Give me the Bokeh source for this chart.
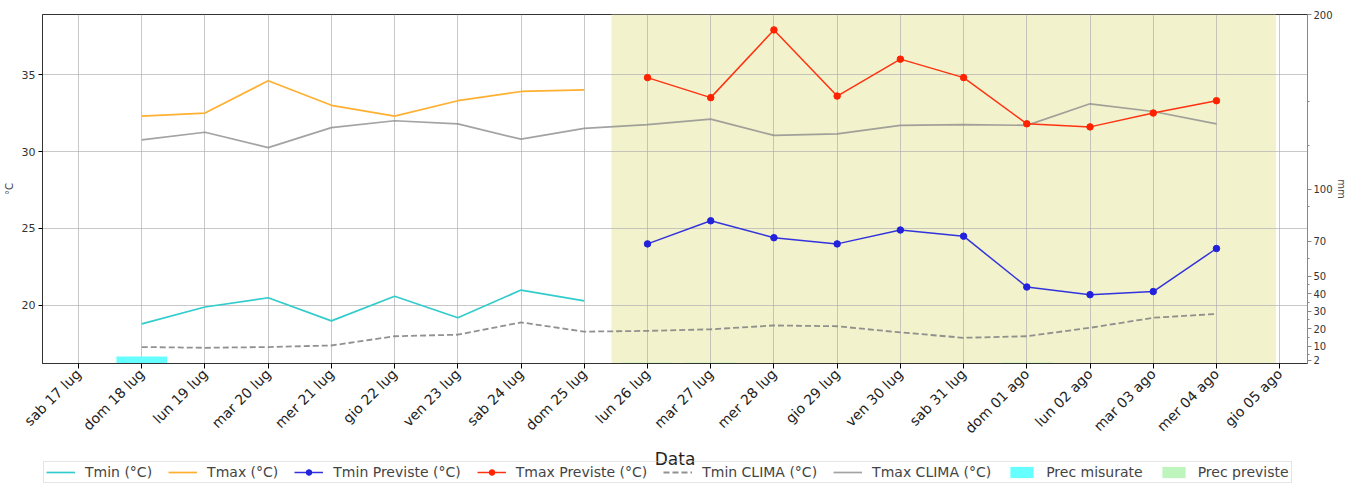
from bokeh.plotting import figure
from bokeh.layouts import column
from bokeh.models import (Range1d, LinearAxis, FixedTicker, BoxAnnotation, Legend,
                          LegendItem, Label)
from bokeh.embed import file_html
from bokeh.resources import INLINE

# ---------------- data ----------------
days = ["sab 17 lug", "dom 18 lug", "lun 19 lug", "mar 20 lug", "mer 21 lug",
        "gio 22 lug", "ven 23 lug", "sab 24 lug", "dom 25 lug", "lun 26 lug",
        "mar 27 lug", "mer 28 lug", "gio 29 lug", "ven 30 lug", "sab 31 lug",
        "dom 01 ago", "lun 02 ago", "mar 03 ago", "mer 04 ago", "gio 05 ago"]

obs_idx = [1, 2, 3, 4, 5, 6, 7, 8]
tmin_obs = [18.8, 19.9, 20.5, 19.0, 20.6, 19.2, 21.0, 20.3]
tmax_obs = [32.3, 32.5, 34.6, 33.0, 32.3, 33.3, 33.9, 34.0]

fc_idx = [9, 10, 11, 12, 13, 14, 15, 16, 17, 18]
tmin_fc = [24.0, 25.5, 24.4, 24.0, 24.9, 24.5, 21.2, 20.7, 20.9, 23.7]
tmax_fc = [34.8, 33.5, 37.9, 33.6, 36.0, 34.8, 31.8, 31.6, 32.5, 33.3]

clima_idx = list(range(1, 19))
tmin_clima = [17.3, 17.25, 17.3, 17.4, 18.0, 18.1, 18.9, 18.3, 18.35, 18.45,
              18.7, 18.65, 18.25, 17.9, 18.0, 18.55, 19.2, 19.45]
tmax_clima = [30.75, 31.25, 30.25, 31.55, 32.0, 31.8, 30.8, 31.5, 31.75, 32.1,
              31.05, 31.15, 31.7, 31.75, 31.7, 33.1, 32.6, 31.8]

prec_obs_idx = [1]
prec_obs = [4.0]
prec_fc_idx = [9, 10, 15]
prec_fc = [0.6, 0.6, 0.6]

mm_ticks = [2, 10, 20, 30, 40, 50, 70, 100, 200]
mm_minor = [5, 15, 25, 35, 45, 60, 90, 125, 150]
c_ticks = [20, 25, 30, 35]

forecast_span = (8.43, 18.94)

FONT = "DejaVu Sans"

ST = {
    "tmin": dict(line_color="#33CCCC", line_width=1.7),
    "tmax": dict(line_color="#FFB030", line_width=1.7),
    "tminfc": dict(line_color="#3333DD", line_width=1.5),
    "tmaxfc": dict(line_color="#FF3311", line_width=1.5),
    "tminc": dict(line_color="#858585", line_width=1.8, line_dash="6 3", line_alpha=0.9),
    "tmaxc": dict(line_color="#8C8C8C", line_width=1.7, line_alpha=0.8),
}
MK = {
    "tminfc": dict(size=6.5, fill_color="#2222DD", line_color="#2222DD"),
    "tmaxfc": dict(size=6.5, fill_color="#FF2200", line_color="#FF2200"),
}
BAR_OBS = dict(fill_color="#66FFFF", line_color=None)
BAR_FC = dict(fill_color="#BDF5BD", line_color=None)


def draw_series(fig, y_range_name_mm):
    """Draw every series on a figure; returns renderers for the legend."""
    b1 = fig.vbar(x=prec_obs_idx, top=prec_obs, bottom=0, width=0.8,
                  y_range_name=y_range_name_mm, **BAR_OBS)
    b2 = fig.vbar(x=prec_fc_idx, top=prec_fc, bottom=0, width=0.8,
                  y_range_name=y_range_name_mm, **BAR_FC)
    r1 = fig.line(obs_idx, tmin_obs, **ST["tmin"])
    r2 = fig.line(obs_idx, tmax_obs, **ST["tmax"])
    r5 = fig.line(clima_idx, tmin_clima, **ST["tminc"])
    r6 = fig.line(clima_idx, tmax_clima, **ST["tmaxc"])
    r3a = fig.line(fc_idx, tmin_fc, **ST["tminfc"])
    r3b = fig.scatter(fc_idx, tmin_fc, **MK["tminfc"])
    r4a = fig.line(fc_idx, tmax_fc, **ST["tmaxfc"])
    r4b = fig.scatter(fc_idx, tmax_fc, **MK["tmaxfc"])
    return [
        ("Tmin (°C)", [r1]),
        ("Tmax (°C)", [r2]),
        ("Tmin Previste (°C)", [r3a, r3b]),
        ("Tmax Previste (°C)", [r4a, r4b]),
        ("Tmin CLIMA (°C)", [r5]),
        ("Tmax CLIMA (°C)", [r6]),
        ("Prec misurate", [b1]),
        ("Prec previste", [b2]),
    ]


# ---------------- main figure ----------------
x_range = Range1d(-0.57, 19.44)
p = figure(width=1349, height=448, output_backend="svg", toolbar_location=None,
           x_range=x_range, y_range=Range1d(16.23, 38.9),
           min_border_left=42, min_border_right=40, min_border_top=14,
           min_border_bottom=85)
p.extra_y_ranges = {"mm": Range1d(0, 200)}

p.background_fill_color = "white"
p.outline_line_color = "#333333"
p.outline_line_width = 1

band = BoxAnnotation(left=forecast_span[0], right=forecast_span[1],
                     fill_color="#F2F2CC", fill_alpha=1.0, line_color=None,
                     level="image")
p.add_layout(band)

p.xgrid.ticker = FixedTicker(ticks=list(range(len(days))))
p.ygrid.ticker = FixedTicker(ticks=c_ticks)
for g in (p.xgrid[0], p.ygrid[0]):
    g.grid_line_color = "#b0b0b0"
    g.grid_line_alpha = 0.7
    g.grid_line_width = 1

xa = p.xaxis[0]
xa.ticker = FixedTicker(ticks=list(range(len(days))))
xa.major_label_overrides = {i: d for i, d in enumerate(days)}
xa.major_label_orientation = 0.785398
xa.major_label_text_font = FONT
xa.major_label_text_font_size = "14px"
xa.major_label_text_color = "#222222"
xa.major_label_standoff = 3
xa.minor_tick_line_color = None
xa.major_tick_out = 5
xa.major_tick_in = 0
xa.axis_line_color = "#333333"

ya = p.yaxis[0]
ya.ticker = FixedTicker(ticks=c_ticks)
ya.axis_label = "°C"
ya.axis_label_text_font = FONT
ya.axis_label_text_font_size = "10px"
ya.axis_label_text_font_style = "normal"
ya.axis_label_standoff = 4
ya.major_label_text_font = FONT
ya.major_label_text_font_size = "11px"
ya.major_label_text_color = "#333333"
ya.major_label_standoff = 3
ya.minor_tick_line_color = None
ya.major_tick_out = 4
ya.major_tick_in = 0
ya.axis_line_color = "#333333"

ra = LinearAxis(y_range_name="mm", axis_label="mm")
ra.ticker = FixedTicker(ticks=mm_ticks, minor_ticks=mm_minor)
ra.axis_label_text_font = FONT
ra.axis_label_text_font_size = "10px"
ra.axis_label_text_font_style = "normal"
ra.axis_label_standoff = 0
ra.major_label_text_font = FONT
ra.major_label_text_font_size = "10px"
ra.major_label_text_color = "#333333"
ra.major_label_standoff = 2
ra.major_tick_out = 4
ra.major_tick_in = 0
ra.minor_tick_out = 2
ra.minor_tick_in = 0
ra.axis_line_color = "#888888"
ra.major_tick_line_color = "#888888"
ra.minor_tick_line_color = "#888888"
p.add_layout(ra, "right")

draw_series(p, "mm")

# ---------------- strip below: axis title + legend ----------------
q = figure(width=1349, height=35, output_backend="svg", toolbar_location=None,
           x_range=x_range, y_range=Range1d(1000, 1035),
           min_border=0, x_axis_type=None, y_axis_type=None)
q.extra_y_ranges = {"mm": Range1d(1000, 1035)}
q.outline_line_color = None
q.grid.visible = False

# same series, outside this strip's visible range: used only as legend glyphs
entries = draw_series(q, "mm")

q.add_layout(Label(x=(x_range.start + x_range.end) / 2, y=1035, text="Data",
                   text_align="center", text_baseline="top",
                   text_font=FONT, text_font_size="17px", text_color="#222222"))

legend = Legend(items=[LegendItem(label=l, renderers=r) for l, r in entries],
                orientation="horizontal", location=(1, 0),
                label_text_font=FONT, label_text_font_size="14px",
                label_height=14, glyph_height=14, glyph_width=29,
                spacing=16, padding=2, margin=0,
                background_fill_alpha=0.0,
                border_line_color="#cccccc", border_line_width=1,
                label_standoff=10)
q.add_layout(legend, "center")

layout = column(p, q, spacing=0)
open("out.html", "w").write(file_html(layout, INLINE))
